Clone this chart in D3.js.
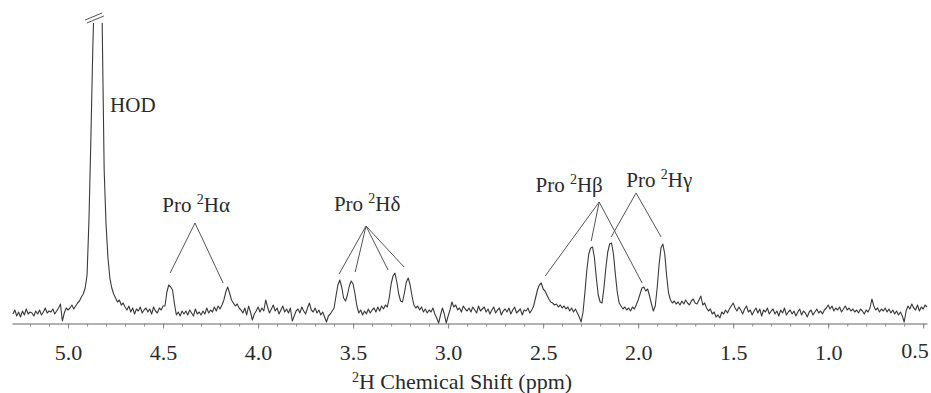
<!DOCTYPE html>
<html>
<head>
<meta charset="utf-8">
<script src="https://cdn.jsdelivr.net/npm/d3@7/dist/d3.min.js"></script>
<style>
  body { margin: 0; background: #fff; }
  svg text { font-family: "Liberation Serif", "Times New Roman", Times, "DejaVu Serif", "Noto Serif", serif; }
</style>
</head>
<body>
<div id="chart"></div>
<script>
// 2H spectrum, one value every 0.01 ppm from 5.29 down to 0.48
const ppmStart = 5.29, ppmStep = 0.01;
const intensity = [
  6, 10, 4, 8, 3, 9, 5, 11, 6, 8,
  7, 4, 9, 6, 10, 5, 8, 12, 7, 9,
  8, 11, 6, 9, 12, 16, -1, 7, 12, 10,
  12, 15, 11, 14, 17, 19, 23, 26, 32, 45,
  100, 180, 270, 340, 900, 1200, 700, 290, 150, 95,
  62, 42, 32, 26, 22, 18, 20, 15, 17, 13,
  10, 14, 8, 12, 6, 11, 9, 13, 7, 10,
  12, 8, 11, 6, 13, 9, 7, 12, 10, 14,
  14, 28, 35, 33, 30, 16, 5, 8, 4, 9,
  6, 9, 5, 10, 7, 4, 11, 6, 8, 5,
  9, 6, 12, 7, 10, 8, 13, 9, 14, 11,
  15, 20, 28, 33, 27, 20, 17, 14, 16, 12,
  10, 7, 12, 5, 14, 8, 0, 6, 9, 13,
  8, 12, 9, 20, 13, 7, 11, 15, 9, 12,
  6, 10, 14, 8, 11, 7, 12, -1, 4, 9,
  11, 7, 13, 9, 6, 12, 17, 10, 8, 12,
  7, 10, 5, 8, 3, -2, 4, 6, 9, 12,
  24, 35, 40, 33, 22, 19, 25, 34, 39, 36,
  26, 14, 7, 10, 5, 9, 6, 11, 7, 10,
  12, 8, 13, 9, 14, 11, 15, 13, 22, 36,
  44, 47, 38, 26, 19, 18, 27, 38, 42, 35,
  24, 15, 12, 14, 10, 13, 8, 11, 7, 10,
  8, 12, 6, 2, -3, 5, 12, 6, -3, 4,
  10, 18, 13, 15, 10, 12, 8, 14, 11, 9,
  12, 8, 13, 10, 7, 14, 9, 11, 13, 8,
  11, 6, 10, 13, 7, 10, 12, 5, 9, 11,
  8, 12, 6, 10, 13, 7, 9, 11, 5, 10,
  9, 12, 7, 10, 14, 22, 30, 35, 37, 31,
  29, 25, 21, 18, 17, 15, 16, 13, 15, 12,
  14, 11, 13, 9, 12, 8, 11, 7, 3, -2,
  8, 28, 50, 66, 72, 73, 62, 42, 25, 18,
  17, 32, 52, 68, 76, 77, 66, 46, 28, 17,
  14, 11, 13, 10, 12, 9, 13, 11, 15, 20,
  26, 32, 33, 29, 31, 24, 16, 9, 14, 32,
  55, 72, 76, 66, 44, 27, 20, 17, 19, 16,
  18, 15, 19, 16, 20, 17, 15, 19, 21, 17,
  16, 20, 24, 15, 17, 12, 9, 11, 6, 8,
  3, 5, 2, 8, 6, 10, 7, 11, 14, 17,
  12, 9, 13, 10, 6, 11, 14, 8, 10, 5,
  9, 12, 7, 11, 4, 10, 8, 12, 6, 9,
  11, 6, 9, 4, 10, 7, 12, 5, 8, 10,
  6, 9, 4, 8, 11, 5, 9, 7, 3, 8,
  10, 5, 8, 11, 7, 9, 6, 10, 12, 15,
  11, 14, 9, 12, 10, 13, 8, 11, 14, 10,
  12, 9, 11, 8, 10, 7, 11, 9, 6, 10,
  8, 12, 21, 14, 10, 12, 8, 11, 9, 12,
  8, 11, 7, 10, 6, 9, 5, 8, 4, -2,
  9, 14, 11, 16, 12, 10, 15, 9, 13, 11,
  15, 13
];

const majorTicks = [5.0, 4.5, 4.0, 3.5, 3.0, 2.5, 2.0, 1.5, 1.0, 0.5];
const minorTicks = [5.2, 5.1, 5.0, 4.9, 4.8, 4.7, 4.6, 4.5, 4.4, 4.3, 4.2, 4.1, 4.0,
  3.9, 3.8, 3.7, 3.6, 3.5, 3.4, 3.3, 3.2, 3.1, 3.0, 2.9, 2.8, 2.7, 2.6, 2.5, 2.4,
  2.3, 2.2, 2.1, 2.0, 1.9, 1.8, 1.7, 1.6, 1.5, 1.4, 1.3, 1.2, 1.1, 1.0, 0.9, 0.8,
  0.7, 0.6, 0.5];

const hodPpm = 4.842;
const clipLevel = 297;

// peak assignments: label anchor, apex of the pointer, pointed peaks (ppm, intensity)
const groupNames = ["α", "δ", "β", "γ"];
const groupLabelAt = [[4.326, 108], [3.426, 109], [2.363, 128], [1.889, 133]];
const groupApex = [[4.332, 97], [3.432, 94], [2.205, 118], [2.011, 127]];
const groupTargets = [
  [[4.463, 47], [4.184, 37]],
  [[3.574, 46], [3.489, 48], [3.316, 50], [3.232, 53]],
  [[2.489, 44], [2.247, 79], [1.979, 37]],
  [[2.142, 83], [1.879, 83]]
];

const width = 931, height = 393;
const serif = '"Liberation Serif", "Times New Roman", Times, "DejaVu Serif", "Noto Serif", serif';

const spectrum = intensity.map((v, i) => ({ ppm: +(ppmStart - i * ppmStep).toFixed(2), v: v }));

const x = d3.scaleLinear().domain([5.295, 0.48]).range([12, 927]);
const y = d3.scaleLinear().domain([0, 300]).range([320, 20]);

const svg = d3.select("#chart")
  .append("svg")
  .attr("width", width)
  .attr("height", height)
  .attr("font-family", serif);

svg.append("clipPath")
  .attr("id", "clip")
  .append("rect")
  .attr("x", 0)
  .attr("y", y(clipLevel))
  .attr("width", width)
  .attr("height", height);

// axis
const axisY = 323.5;

svg.append("g")
  .attr("class", "minor")
  .attr("transform", "translate(0," + axisY + ")")
  .call(d3.axisBottom(x).tickValues(minorTicks).tickSize(3).tickSizeOuter(0).tickFormat(""))
  .call(g => g.select(".domain").remove())
  .call(g => g.selectAll("line").attr("stroke", "#888"));

svg.append("g")
  .attr("class", "major")
  .attr("transform", "translate(0," + axisY + ")")
  .call(d3.axisBottom(x).tickValues(majorTicks).tickSize(5).tickSizeOuter(0)
    .tickPadding(16).tickFormat(d3.format(".1f")))
  .attr("font-family", serif)
  .call(g => g.select(".domain").attr("stroke", "#999").attr("stroke-width", 1.5))
  .call(g => g.selectAll("line").attr("stroke", "#888"))
  .call(g => g.selectAll("text")
    .attr("fill", "#2a2a2a")
    .style("font-size", "22px"));

// last label sits against the right edge
svg.select(".major").selectAll(".tick text")
  .filter(d => d === 0.5)
  .attr("text-anchor", "end")
  .attr("x", 5)
  .attr("y", 19);

// spectrum
const line = d3.line()
  .x(d => x(d.ppm))
  .y(d => y(d.v));

svg.append("path")
  .datum(spectrum)
  .attr("clip-path", "url(#clip)")
  .attr("fill", "none")
  .attr("stroke", "#3a3a3a")
  .attr("stroke-width", 1.1)
  .attr("stroke-linejoin", "round")
  .attr("d", line);

// break mark on HOD
const bx = x(hodPpm), by = y(clipLevel);
[0, 3].forEach(o => {
  svg.append("line")
    .attr("x1", bx - 13 + o * 0.6).attr("y1", by - 3 + o)
    .attr("x2", bx + 4 + o * 0.6).attr("y2", by - 10 + o)
    .attr("stroke", "#555")
    .attr("stroke-width", 1);
});

// labels
const labelColor = "#2a2a2a";

svg.append("text")
  .attr("x", x(4.779))
  .attr("y", y(208))
  .attr("fill", labelColor)
  .style("font-size", "21px")
  .text("HOD");

groupNames.forEach((n, i) => {
  const t = svg.append("text")
    .attr("x", x(groupLabelAt[i][0]))
    .attr("y", y(groupLabelAt[i][1]))
    .attr("text-anchor", "middle")
    .attr("fill", labelColor)
    .style("font-size", "21px");
  t.append("tspan").text("Pro ");
  t.append("tspan").attr("dy", -8).style("font-size", "14px").text("2");
  t.append("tspan").attr("dy", 8).text("H" + n);

  groupTargets[i].forEach(p => {
    svg.append("line")
      .attr("x1", x(groupApex[i][0]))
      .attr("y1", y(groupApex[i][1]))
      .attr("x2", x(p[0]))
      .attr("y2", y(p[1]))
      .attr("stroke", "#555")
      .attr("stroke-width", 1);
  });
});

// axis title
const title = svg.append("text")
  .attr("x", 462)
  .attr("y", 389)
  .attr("text-anchor", "middle")
  .attr("fill", labelColor)
  .style("font-size", "22px");
title.append("tspan").attr("dy", -7).style("font-size", "14px").text("2");
title.append("tspan").attr("dy", 7).text("H Chemical Shift (ppm)");
</script>
</body>
</html>
